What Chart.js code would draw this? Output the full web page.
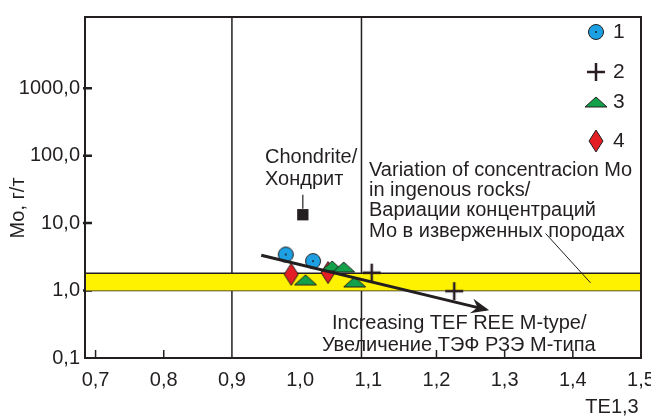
<!DOCTYPE html>
<html>
<head>
<meta charset="utf-8">
<script src="https://cdn.jsdelivr.net/npm/chart.js@4.4.0/dist/chart.umd.min.js"></script>
<style>
    html, body { margin: 0; padding: 0; background: #fff; }
    #grafico { display: block; }
</style>
</head>
<body>
<canvas id="grafico" width="651" height="417"></canvas>
<script>
// Datos
var xTicks = [0.7, 0.8, 0.9, 1.0, 1.1, 1.2, 1.3, 1.4, 1.5];
var yTicks = [0.1, 1, 10, 100, 1000];
var xMin = 0.6845, xMax = 1.5;
var yMin = 0.1, yMax = 11350;

var serie1 = [{ x: 0.979, y: 3.42 }, { x: 1.019, y: 2.73 }];
var serie2 = [{ x: 1.105, y: 1.84 }, { x: 1.226, y: 0.98 }];
var serie3 = [{ x: 1.008, y: 1.44 }, { x: 1.047, y: 2.31 }, { x: 1.064, y: 2.23 }, { x: 1.080, y: 1.34 }];
var serie4 = [{ x: 0.987, y: 1.74 }, { x: 1.041, y: 1.85 }];
var condrita = [{ x: 1.004, y: 13.3 }];
var leyenda = ["1", "2", "3", "4"];

var bandaMin = 1.0, bandaMax = 1.80;
var lineasVerticales = [0.9, 1.09];
var flecha = [{ x: 0.943, y: 3.34 }, { x: 1.273, y: 0.522 }];
var lineaGuia = [{ x: 1.360, y: 7.02 }, { x: 1.426, y: 1.30 }];
var ticksInferiores = [0.7, 0.8, 1.2, 1.3, 1.4];
var ticksIzquierdos = [1, 10, 100, 1000];

var oscuro = "#231f20";
var fuente = "'Liberation Sans', Arial, sans-serif";

// Símbolos dibujados en canvas pequeños
function crearSimbolo(ancho, alto, dibujar) {
    var c = document.createElement("canvas");
    c.width = ancho;
    c.height = alto;
    var ctx = c.getContext("2d");
    ctx.strokeStyle = oscuro;
    ctx.lineWidth = 1;
    dibujar(ctx);
    return c;
}

var simCirculo = crearSimbolo(18, 18, function (ctx) {
    ctx.beginPath();
    ctx.arc(9, 9, 7.5, 0, Math.PI * 2);
    ctx.fillStyle = "#1c9fe3";
    ctx.fill();
    ctx.stroke();
    ctx.beginPath();
    ctx.arc(9, 9, 1, 0, Math.PI * 2);
    ctx.fillStyle = oscuro;
    ctx.fill();
});

var simCruz = crearSimbolo(20, 20, function (ctx) {
    ctx.strokeStyle = "#2a1c24";
    ctx.lineWidth = 2.5;
    ctx.beginPath();
    ctx.moveTo(1, 10); ctx.lineTo(19, 10);
    ctx.moveTo(10, 1); ctx.lineTo(10, 19);
    ctx.stroke();
});

var simTriangulo = crearSimbolo(24, 12, function (ctx) {
    ctx.beginPath();
    ctx.moveTo(1, 11); ctx.lineTo(12, 1); ctx.lineTo(23, 11);
    ctx.closePath();
    ctx.fillStyle = "#13a04a";
    ctx.fill();
    ctx.stroke();
});

var simRombo = crearSimbolo(16, 24, function (ctx) {
    ctx.beginPath();
    ctx.moveTo(8, 1); ctx.lineTo(15, 12); ctx.lineTo(8, 23); ctx.lineTo(1, 12);
    ctx.closePath();
    ctx.fillStyle = "#e31e25";
    ctx.fill();
    ctx.stroke();
});

var simbolos = [simCirculo, simCruz, simTriangulo, simRombo];

function linea(datos, ancho, orden, extra) {
    var ds = {
        data: datos,
        showLine: true,
        borderColor: oscuro,
        borderWidth: ancho,
        pointRadius: 0,
        fill: false,
        order: orden,
    };
    return Object.assign(ds, extra || {});
}

function puntos(datos, simbolo) {
    return {
        data: datos,
        showLine: false,
        pointStyle: simbolo,
        pointRadius: 9,
        order: 10,
    };
}

var datasets = [];

// Líneas verticales de referencia
lineasVerticales.forEach(function (x) {
    datasets.push(linea([{ x: x, y: yMin }, { x: x, y: yMax }], 1.5, 30));
});

// Banda amarilla
datasets.push(linea([{ x: xMin, y: bandaMin }, { x: xMax, y: bandaMin }], 1.5, 20));
datasets.push(linea([{ x: xMin, y: bandaMax }, { x: xMax, y: bandaMax }], 1.5, 19, {
    fill: "-1",
    backgroundColor: "#fff200",
}));

datasets.push(linea(lineaGuia, 1, 15));

datasets.push(puntos(serie1, simCirculo));
datasets.push(puntos(serie2, simCruz));
datasets.push(puntos(serie3, simTriangulo));
datasets.push(puntos(serie4, simRombo));
datasets.push({
    data: condrita,
    showLine: false,
    pointStyle: "rect",
    pointRadius: 8,
    backgroundColor: oscuro,
    borderColor: oscuro,
    borderWidth: 0,
    order: 10,
});

var indiceFlecha = datasets.length;
datasets.push(linea(flecha, 3, 0));
var indiceCondrita = indiceFlecha - 1;

// Textos
function texto(ctx, t, x, y, tam, alin) {
    ctx.font = tam + "px " + fuente;
    ctx.textAlign = alin || "left";
    ctx.textBaseline = "middle";
    ctx.fillText(t, x, y);
}

var decoracion = {
    id: "decoracion",
    beforeDatasetsDraw: function (chart) {
        var ctx = chart.ctx;
        var area = chart.chartArea;
        var sx = chart.scales.x, sy = chart.scales.y;
        ctx.save();
        ctx.strokeStyle = oscuro;
        ctx.lineWidth = 1.5;
        ctx.beginPath();
        ticksInferiores.forEach(function (v) {
            var px = sx.getPixelForValue(v);
            ctx.moveTo(px, area.bottom);
            ctx.lineTo(px, area.bottom - 8);
        });
        ctx.stroke();
        ctx.lineWidth = 2.5;
        ctx.beginPath();
        ticksIzquierdos.forEach(function (v) {
            var py = sy.getPixelForValue(v);
            ctx.moveTo(area.left - 2, py);
            ctx.lineTo(area.left + 7, py);
        });
        ctx.stroke();
        ctx.restore();
    },
    afterDatasetsDraw: function (chart) {
        var ctx = chart.ctx;
        var area = chart.chartArea;
        ctx.save();

        // Marco
        ctx.strokeStyle = oscuro;
        ctx.lineWidth = 2;
        ctx.strokeRect(area.left, area.top, area.right - area.left, area.bottom - area.top);

        // Punta de flecha
        var pts = chart.getDatasetMeta(indiceFlecha).data;
        var a = pts[0], b = pts[1];
        var ang = Math.atan2(b.y - a.y, b.x - a.x);
        var cs = Math.cos(ang), sn = Math.sin(ang);
        var tipX = b.x + cs * 3, tipY = b.y + sn * 3;
        ctx.fillStyle = oscuro;
        ctx.beginPath();
        ctx.moveTo(tipX, tipY);
        ctx.lineTo(tipX - cs * 18 - sn * 7.5, tipY - sn * 18 + cs * 7.5);
        ctx.lineTo(tipX - cs * 12, tipY - sn * 12);
        ctx.lineTo(tipX - cs * 18 + sn * 7.5, tipY - sn * 18 - cs * 7.5);
        ctx.closePath();
        ctx.fill();

        // Línea de la condrita
        var pc = chart.getDatasetMeta(indiceCondrita).data[0];
        ctx.lineWidth = 1.2;
        ctx.beginPath();
        ctx.moveTo(pc.x, pc.y - 6);
        ctx.lineTo(pc.x, pc.y - 20);
        ctx.stroke();

        // Anotaciones
        ctx.fillStyle = oscuro;
        texto(ctx, "Chondrite/", 265, 157, 20);
        texto(ctx, "Хондрит", 265, 179, 20);
        texto(ctx, "Variation of concentracion Mo", 369, 170, 20);
        texto(ctx, "in ingenous rocks/", 369, 190, 20);
        texto(ctx, "Вариации концентраций", 369, 210, 20);
        texto(ctx, "Мо в изверженных породах", 369, 231, 20);
        texto(ctx, "Increasing TEF REE M-type/", 332, 323, 20);
        texto(ctx, "Увеличение ТЭФ РЗЭ М-типа", 322, 345, 20);
        texto(ctx, "TE1,3", 612, 407, 20, "center");

        // Título del eje Y
        ctx.save();
        ctx.translate(18, 208);
        ctx.rotate(-Math.PI / 2);
        texto(ctx, "Мо, г/т", 0, 0, 20, "center");
        ctx.restore();

        // Leyenda
        var filas = [32, 72, 102, 141];
        simbolos.forEach(function (s, i) {
            ctx.drawImage(s, 596 - s.width / 2, filas[i] - s.height / 2);
            texto(ctx, leyenda[i], 613, filas[i], 21);
        });

        ctx.restore();
    },
};

var formato = function (v) {
    return Number(v).toFixed(1).replace(".", ",");
};

var grafico = new Chart(document.getElementById("grafico").getContext("2d"), {
    type: "scatter",
    data: { datasets: datasets },
    options: {
        responsive: false,
        animation: false,
        events: [],
        layout: { padding: { top: 13, right: 8, left: 0, bottom: 0 } },
        plugins: {
            legend: { display: false },
            tooltip: { enabled: false },
        },
        scales: {
            x: {
                type: "linear",
                min: xMin,
                max: xMax,
                grid: { display: false, drawTicks: false },
                border: { display: false },
                afterBuildTicks: function (scale) {
                    scale.ticks = xTicks.map(function (v) { return { value: v }; });
                },
                afterFit: function (scale) {
                    scale.height = 59;
                    scale.paddingLeft = 0;
                    scale.paddingRight = 0;
                },
                ticks: {
                    autoSkip: false,
                    maxRotation: 0,
                    padding: 10,
                    color: oscuro,
                    font: { family: fuente, size: 20 },
                    callback: formato,
                },
            },
            y: {
                type: "logarithmic",
                min: yMin,
                max: yMax,
                grid: { display: false, drawTicks: false },
                border: { display: false },
                afterBuildTicks: function (scale) {
                    scale.ticks = yTicks.map(function (v) { return { value: v }; });
                },
                afterFit: function (scale) {
                    scale.width = 85;
                },
                ticks: {
                    padding: 5,
                    color: oscuro,
                    font: { family: fuente, size: 20 },
                    callback: formato,
                },
            },
        },
    },
    plugins: [decoracion],
});
</script>
</body>
</html>
